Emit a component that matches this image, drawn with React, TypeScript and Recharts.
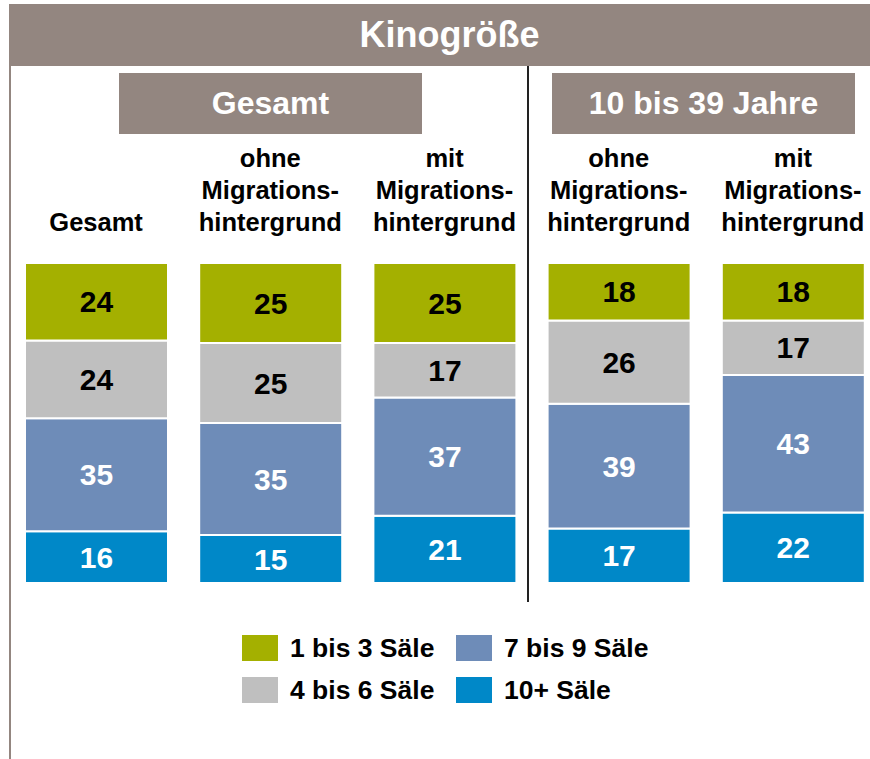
import { Bar, BarChart, LabelList, Legend, XAxis, YAxis } from 'recharts';

const FONT = '"Liberation Sans", Arial, sans-serif';
const FRAME = '#938680';

const categories = [
  'Gesamt',
  'ohne\nMigrations-\nhintergrund',
  'mit\nMigrations-\nhintergrund',
  'ohne\nMigrations-\nhintergrund',
  'mit\nMigrations-\nhintergrund',
];
const saele1bis3 = [24, 25, 25, 18, 18];
const saele4bis6 = [24, 25, 17, 26, 17];
const saele7bis9 = [35, 35, 37, 39, 43];
const saele10plus = [16, 15, 21, 17, 22];

// bottom of the stack first
const series = [
  { key: 's10', name: '10+ Säle', color: '#0088C8', text: '#ffffff', values: saele10plus },
  { key: 's79', name: '7 bis 9 Säle', color: '#6E8CB8', text: '#ffffff', values: saele7bis9 },
  { key: 's46', name: '4 bis 6 Säle', color: '#BFBFBF', text: '#000000', values: saele4bis6 },
  { key: 's13', name: '1 bis 3 Säle', color: '#A4B000', text: '#000000', values: saele1bis3 },
];

// legend reads column by column
const legendOrder = ['s13', 's46', 's79', 's10'];

const data = categories.map((cat, i) => {
  const row: Record<string, string | number> = { cat };
  series.forEach((s) => {
    row[s.key] = s.values[i];
  });
  return row;
});

const CategoryTick = (props: any) => {
  const { x, y, payload } = props;
  const lines = String(payload.value).split('\n');
  return (
    <text x={x} textAnchor="middle" fontFamily={FONT} fontWeight="bold" fontSize={25.5} fill="#000">
      {lines.map((line, i) => (
        <tspan key={i} x={x} y={y - 32 - 32 * (lines.length - 1 - i)}>
          {line}
        </tspan>
      ))}
    </text>
  );
};

const LegendGrid = () => {
  const items = legendOrder.map((k) => series.find((s) => s.key === k)!);
  return (
    <div
      style={{
        display: 'grid',
        gridTemplateColumns: '214px auto',
        gridAutoFlow: 'column',
        gridTemplateRows: '26px 26px',
        rowGap: 16,
        marginLeft: 242,
        fontFamily: FONT,
      }}
    >
      {items.map((s) => (
        <div key={s.key} style={{ display: 'flex', alignItems: 'center' }}>
          <span style={{ width: 36, height: 26, background: s.color, marginRight: 12, flexShrink: 0 }} />
          <span style={{ fontSize: 26.5, fontWeight: 'bold', color: '#000', lineHeight: '26px', whiteSpace: 'nowrap' }}>
            {s.name}
          </span>
        </div>
      ))}
    </div>
  );
};

const boxStyle: React.CSSProperties = {
  position: 'absolute',
  background: FRAME,
  color: '#fff',
  fontFamily: FONT,
  fontWeight: 'bold',
  display: 'flex',
  alignItems: 'center',
  justifyContent: 'center',
};

export default function App() {
  return (
    <div
      style={{
        position: 'absolute',
        left: 0,
        top: 0,
        width: 870,
        height: 759,
        overflow: 'hidden',
        background: '#fff',
      }}
    >
      {/* frame */}
      <div style={{ position: 'absolute', left: 9, top: 4, width: 2, height: 755, background: FRAME }} />
      <div style={{ ...boxStyle, left: 9, top: 4, width: 861, height: 62, fontSize: 36, paddingLeft: 10 }}>
        Kinogröße
      </div>
      <div style={{ ...boxStyle, left: 119, top: 73, width: 303, height: 61, fontSize: 32 }}>Gesamt</div>
      <div style={{ ...boxStyle, left: 552, top: 73, width: 303, height: 61, fontSize: 32 }}>10 bis 39 Jahre</div>
      <div style={{ position: 'absolute', left: 527, top: 66, width: 2, height: 536, background: '#222' }} />

      <div style={{ position: 'absolute', left: 0, top: 0 }}>
        <BarChart
          width={880}
          height={759}
          data={data}
          stackOffset="expand"
          margin={{ top: 143, right: 0, bottom: 176, left: 9 }}
        >
          <XAxis
            dataKey="cat"
            orientation="top"
            height={120}
            axisLine={false}
            tickLine={false}
            tickSize={0}
            tickMargin={0}
            interval={0}
            tick={<CategoryTick />}
          />
          <YAxis hide domain={[0, 1]} />
          <Legend
            layout="horizontal"
            verticalAlign="middle"
            align="center"
            wrapperStyle={{ top: 635, left: 0, width: 870 }}
            content={() => <LegendGrid />}
          />
          {series.map((s) => (
            <Bar
              key={s.key}
              dataKey={s.key}
              name={s.name}
              stackId="a"
              fill={s.color}
              stroke="#fff"
              strokeWidth={2}
              barSize={143}
              isAnimationActive={false}
            >
              <LabelList
                dataKey={s.key}
                position="center"
                fill={s.text}
                fontFamily={FONT}
                fontWeight="bold"
                fontSize={30}
              />
            </Bar>
          ))}
        </BarChart>
      </div>
    </div>
  );
}
